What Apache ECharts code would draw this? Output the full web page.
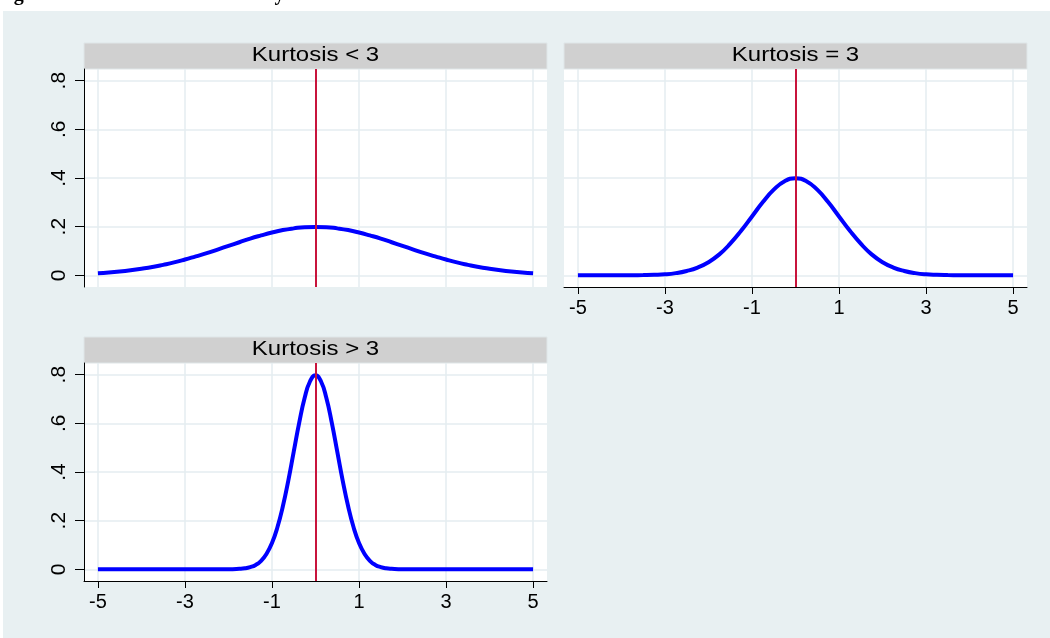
<!DOCTYPE html>
<html>
<head>
<meta charset="utf-8">
<script src="https://cdn.jsdelivr.net/npm/echarts@6/dist/echarts.min.js"></script>
<style>
  html, body { margin: 0; padding: 0; background: #fff; }
  #chart { width: 1050px; height: 638px; }
</style>
</head>
<body>
<div id="chart"></div>
<script>
// x grid of the two wider density curves
var xs = [-5, -4.75, -4.5, -4.25, -4, -3.75, -3.5, -3.25, -3, -2.75, -2.5, -2.25, -2, -1.75, -1.5, -1.25, -1, -0.75, -0.5, -0.25,
  0, 0.25, 0.5, 0.75, 1, 1.25, 1.5, 1.75, 2, 2.25, 2.5, 2.75, 3, 3.25, 3.5, 3.75, 4, 4.25, 4.5, 4.75, 5];

// Kurtosis < 3 (flat)
var kLow = [0.009, 0.012, 0.016, 0.021, 0.027, 0.034, 0.043, 0.053, 0.065, 0.078, 0.091, 0.106, 0.121, 0.136, 0.151, 0.164, 0.176, 0.186, 0.193, 0.198,
  0.199, 0.198, 0.193, 0.186, 0.176, 0.164, 0.151, 0.136, 0.121, 0.106, 0.091, 0.078, 0.065, 0.053, 0.043, 0.034, 0.027, 0.021, 0.016, 0.012, 0.009];
// Kurtosis = 3
var kMid = [0, 0, 0, 0, 0.0001, 0.0004, 0.001, 0.002, 0.004, 0.009, 0.018, 0.032, 0.054, 0.086, 0.130, 0.183, 0.242, 0.301, 0.352, 0.387,
  0.399, 0.387, 0.352, 0.301, 0.242, 0.183, 0.130, 0.086, 0.054, 0.032, 0.018, 0.009, 0.004, 0.002, 0.001, 0.0004, 0.0001, 0, 0, 0, 0];

// Kurtosis > 3 (peaked), read on a finer grid around the peak
var xsHigh = [-5, -4, -3, -2.5, -2, -1.75, -1.625, -1.5, -1.375, -1.25, -1.125, -1, -0.875, -0.75, -0.625, -0.5, -0.375, -0.25, -0.125,
  0, 0.125, 0.25, 0.375, 0.5, 0.625, 0.75, 0.875, 1, 1.125, 1.25, 1.375, 1.5, 1.625, 1.75, 2, 2.5, 3, 4, 5];
var kHigh = [0, 0, 0, 0, 0.0003, 0.002, 0.004, 0.009, 0.018, 0.035, 0.064, 0.108, 0.173, 0.259, 0.365, 0.484, 0.602, 0.704, 0.773,
  0.798, 0.773, 0.704, 0.602, 0.484, 0.365, 0.259, 0.173, 0.108, 0.064, 0.035, 0.018, 0.009, 0.004, 0.002, 0.0003, 0, 0, 0, 0];

var panelTitles = ['Kurtosis < 3', 'Kurtosis = 3', 'Kurtosis > 3'];
var xTicks = [-5, -3, -1, 1, 3, 5];
var yTicks = [0, 0.2, 0.4, 0.6, 0.8];

var chart = echarts.init(document.getElementById('chart'));

var font = '"Liberation Sans", Arial, sans-serif';
var gridColor = '#e4edf0';

function pairs(x, ys) {
  return x.map(function (v, i) { return [v, ys[i]]; });
}

function xAxis(idx, showAxis) {
  return {
    type: 'value', gridIndex: idx, min: -5.32, max: 5.32,
    axisLine: { show: showAxis, onZero: false, lineStyle: { color: '#000', width: 1 } },
    axisTick: { show: showAxis, length: 7, customValues: xTicks, lineStyle: { color: '#000' } },
    axisLabel: { show: showAxis, customValues: xTicks, margin: 11, color: '#000', fontSize: 20, fontFamily: font },
    splitLine: { show: true, lineStyle: { color: gridColor, width: 1.5 } }
  };
}

function yAxis(idx, showAxis) {
  return {
    type: 'value', gridIndex: idx, min: -0.048, max: 0.848,
    axisLine: { show: showAxis, onZero: false, lineStyle: { color: '#000', width: 1 } },
    axisTick: { show: showAxis, length: 9, customValues: yTicks, lineStyle: { color: '#000' } },
    axisLabel: {
      show: showAxis, customValues: yTicks, rotate: 90, margin: 14, color: '#000', fontSize: 21, fontFamily: font,
      formatter: function (v) { return v === 0 ? '0' : String(+v.toFixed(1)).replace(/^0\./, '.'); }
    },
    splitLine: { show: true, lineStyle: { color: gridColor, width: 1.5 } }
  };
}

function curve(idx, x, ys) {
  return {
    type: 'line', xAxisIndex: idx, yAxisIndex: idx,
    data: pairs(x, ys), smooth: true, showSymbol: false, silent: true,
    lineStyle: { color: '#0000ff', width: 4 },
    markLine: {
      silent: true, symbol: 'none', animation: false,
      label: { show: false },
      lineStyle: { color: '#c8143c', width: 2, type: 'solid' },
      data: [{ xAxis: 0 }]
    },
    z: 3
  };
}

var grids = [
  { left: 84, top: 69, width: 463, height: 218 },
  { left: 564, top: 69, width: 463, height: 218 },
  { left: 84, top: 363, width: 463, height: 218 }
];

// grey strip with the panel title, text is a little wider than plain Arial in the original
var headers = grids.map(function (g, i) {
  return {
    type: 'group',
    children: [
      { type: 'rect', shape: { x: g.left, y: g.top - 26, width: g.width, height: 26 },
        style: { fill: '#d0d0d0', stroke: '#dfe6e8', lineWidth: 1 } },
      { type: 'text', x: g.left + g.width / 2, y: g.top - 14, scaleX: 1.2,
        style: { text: panelTitles[i], fill: '#000', font: '20px ' + font, align: 'center', verticalAlign: 'middle' } }
    ]
  };
});

option = {
  backgroundColor: '#ffffff',
  animation: false,
  graphic: [
    { type: 'rect', z: -10, shape: { x: 3, y: 11, width: 1047, height: 627 }, style: { fill: '#e8f0f2' } },
    { type: 'text', z: -5, x: -4, y: -15,
      style: { text: 'Figure 2: Normal distributions by kurtosis', fill: '#000', font: 'bold 20px "Liberation Serif", serif' } }
  ].concat(headers),
  grid: grids.map(function (g) {
    return { left: g.left, top: g.top, width: g.width, height: g.height, show: true, backgroundColor: '#fff', borderWidth: 0 };
  }),
  xAxis: [xAxis(0, false), xAxis(1, true), xAxis(2, true)],
  yAxis: [yAxis(0, true), yAxis(1, false), yAxis(2, true)],
  series: [curve(0, xs, kLow), curve(1, xs, kMid), curve(2, xsHigh, kHigh)]
};

chart.setOption(option);
</script>
</body>
</html>
